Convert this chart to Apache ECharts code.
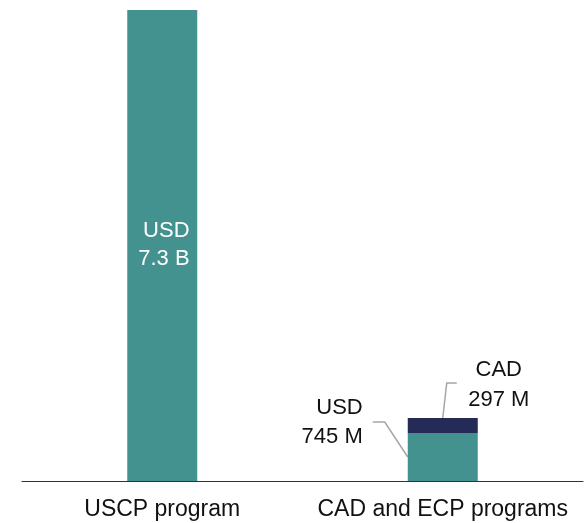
<!DOCTYPE html>
<html>
<head>
<meta charset="utf-8">
<script src="https://cdn.jsdelivr.net/npm/echarts@6/dist/echarts.min.js"></script>
<style>
  html, body { margin: 0; padding: 0; background: #fff; }
  #chart { width: 585px; height: 523px; }
</style>
</head>
<body>
<div id="chart"></div>
<script>
// programs on the x axis
var categories = ["USCP program", "CAD and ECP programs"];
// amounts in USD millions
var usdValues = [7300, 745];
var cadValues = [null, 232]; // CAD 297 M shown in USD equivalent
var usdLabels = ["USD\n7.3 B", "USD\n745 M"];
var cadLabels = ["", "CAD\n297 M"];

var teal = "#43928f";
var navy = "#242b57";
var lineGrey = "#a6a6a6";
var font = "Liberation Sans, Arial, sans-serif";

var chart = echarts.init(document.getElementById("chart"));

var option = {
  animation: false,
  grid: { left: 22, right: 2, top: 10, bottom: 42 },
  xAxis: {
    type: "category",
    data: categories,
    axisTick: { show: false },
    axisLine: { lineStyle: { color: "#333", width: 1.2 } },
    axisLabel: { interval: 0, fontSize: 23, color: "#111", margin: 17, fontFamily: font }
  },
  yAxis: { type: "value", min: 0, max: 7300, show: false },
  series: [
    {
      name: "USD",
      type: "bar",
      stack: "total",
      barWidth: 70,
      itemStyle: { color: teal },
      data: usdValues.map(function (v, i) {
        return { value: v, label: i === 0 ? { color: "#fff" } : { color: "#111", lineHeight: 29 } };
      }),
      label: {
        show: true,
        fontSize: 22,
        lineHeight: 28,
        fontFamily: font,
        formatter: function (p) { return usdLabels[p.dataIndex]; }
      },
      labelLayout: function (p) {
        var r = p.rect;
        if (p.dataIndex === 0) {
          return { x: r.x + r.width * 0.89, y: r.y + r.height / 2 - 1, align: "right", verticalAlign: "middle" };
        }
        return { x: r.x - 45, y: r.y - 10, align: "right", verticalAlign: "middle" };
      }
    },
    {
      name: "CAD",
      type: "bar",
      stack: "total",
      barWidth: 70,
      itemStyle: { color: navy },
      data: cadValues,
      label: {
        show: true,
        fontSize: 22,
        lineHeight: 30,
        color: "#111",
        fontFamily: font,
        formatter: function (p) { return cadLabels[p.dataIndex]; }
      },
      labelLayout: function (p) {
        var r = p.rect;
        return { x: r.x + 91, y: r.y - 33, align: "center", verticalAlign: "middle" };
      }
    }
  ]
};

chart.setOption(option);

// leader lines for the small stacked bar, placed from the chart's own scales
var cx = chart.convertToPixel({ xAxisIndex: 0 }, categories[1]);
var y0 = chart.convertToPixel({ yAxisIndex: 0 }, 0);
var yUsd = chart.convertToPixel({ yAxisIndex: 0 }, usdValues[1]);
var yCad = chart.convertToPixel({ yAxisIndex: 0 }, usdValues[1] + cadValues[1]);
var left = cx - 35;

chart.setOption({
  graphic: [
    {
      type: "polyline",
      silent: true,
      shape: { points: [[left - 35, yCad + 4], [left - 23, yCad + 4], [left, (yUsd + y0) / 2]] },
      style: { stroke: lineGrey, lineWidth: 1.5, fill: null }
    },
    {
      type: "polyline",
      silent: true,
      shape: { points: [[left + 49, yCad - 35], [left + 39, yCad - 35], [left + 35, yCad]] },
      style: { stroke: lineGrey, lineWidth: 1.5, fill: null }
    }
  ]
});
</script>
</body>
</html>
